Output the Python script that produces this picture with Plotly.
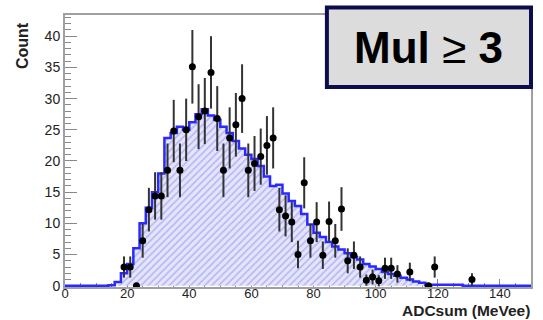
import numpy as np
import plotly.graph_objects as go

# Measured spectrum (bin centres, counts, statistical errors)
data_x = [19, 21, 23, 25, 27, 29, 31, 33, 35, 37, 39, 41, 43, 45, 47, 49, 51, 53,
          55, 57, 59, 61, 63, 65, 67, 69, 71, 73, 75, 77, 79, 81, 83, 85, 87, 89,
          91, 93, 95, 97, 99, 101, 103, 105, 107, 111, 117, 119, 131]
data_y = [3.0, 3.0, 0.0, 7.2, 12.2, 14.4, 14.4, 18.5, 24.8, 18.5, 25.0, 35.1, 27.1,
          28.0, 34.2, 26.8, 18.5, 23.7, 25.8, 30.0, 18.5, 19.6, 20.7, 22.5, 23.7,
          12.2, 11.2, 10.2, 5.0, 16.5, 7.2, 10.2, 4.9, 10.3, 7.2, 12.3, 4.0, 4.9,
          3.0, 0.9, 1.4, 0.8, 2.8, 2.8, 1.9, 2.2, 0.0, 3.0, 1.0]
data_err = [1.7, 1.7, 0.0, 2.7, 3.5, 3.8, 3.8, 4.3, 5.0, 4.3, 5.0, 5.9, 5.2, 5.3,
            5.8, 5.2, 4.3, 4.9, 5.1, 5.5, 4.3, 4.4, 4.5, 4.7, 4.9, 3.5, 3.3, 3.2,
            2.2, 4.1, 2.7, 3.2, 2.2, 3.2, 2.7, 3.5, 2.0, 2.2, 1.7, 0.9, 1.2, 0.9,
            1.7, 1.7, 1.4, 1.5, 0.0, 1.7, 1.0]

# Simulated spectrum, 2 MeVee bins from 0 to 150
sim_edges = list(range(0, 152, 2))
sim_counts = [0, 0, 0, 0, 0, 0, 0,
              0.1, 0.6, 2.0, 3.5, 6.0, 10.0, 12.5, 15.0, 18.0, 23.7, 24.5, 25.5,
              25.0, 26.2, 27.5, 28.3, 27.3, 26.6, 25.5, 24.5, 23.2, 22.0, 21.0,
              20.3, 19.2, 17.5, 16.0, 16.2, 14.8, 13.6, 12.8, 11.5, 9.8, 8.5, 7.8,
              7.0, 6.3, 5.8, 5.2, 4.6, 4.2, 3.5, 3.1, 2.7, 2.2, 1.9, 1.6, 1.3, 1.0,
              0.7, 0.5, 0.1,
              0.15, 0.15, 0.15, 0.15, 0.15,
              0, 0, 0, 0, 0, 0, 0, 0, 0, 0, 0]

x_ticks = [0, 20, 40, 60, 80, 100, 120, 140]
y_ticks = [0, 5, 10, 15, 20, 25, 30, 35, 40]

step_x = sim_edges
step_y = sim_counts + [sim_counts[-1]]

fig = go.Figure()

fig.add_trace(go.Scatter(
    x=step_x, y=step_y, mode="lines", line_shape="hv",
    line=dict(color="#2a2aff", width=2.5),
    fill="tozeroy",
    fillpattern=dict(shape="/", bgcolor="#e4e4fb", fgcolor="#8484ea",
                     size=5, solidity=0.3),
    hoverinfo="skip", showlegend=False,
))

fig.add_trace(go.Scatter(
    x=data_x, y=data_y, mode="markers",
    marker=dict(color="black", size=7),
    error_y=dict(type="data", array=data_err, visible=True,
                 color="#333333", thickness=2, width=0),
    showlegend=False,
))

fig.update_layout(
    width=543, height=320,
    margin=dict(l=65, r=10, t=15, b=33),
    paper_bgcolor="white", plot_bgcolor="white",
    font=dict(family="Liberation Sans, Arial, sans-serif", color="#222222"),
)

fig.update_xaxes(
    range=[0, 150], tickvals=x_ticks, ticks="inside", ticklen=8, tickwidth=1,
    tickcolor="#888888",
    minor=dict(dtick=5, ticks="inside", ticklen=4, tickcolor="#888888"),
    showline=True, linecolor="#a0a0a0", linewidth=2, mirror=True,
    showgrid=False, zeroline=False, layer="below traces",
    tickfont=dict(size=13, color="#222222"), ticklabelstandoff=-7,
)
fig.update_yaxes(
    range=[-0.2, 43.4], tickvals=y_ticks, ticks="inside", ticklen=12, tickwidth=1,
    tickcolor="#888888",
    minor=dict(dtick=1, ticks="inside", ticklen=6, tickcolor="#888888"),
    showline=True, linecolor="#a0a0a0", linewidth=2, mirror=True,
    showgrid=False, zeroline=False, layer="below traces",
    tickfont=dict(size=14, color="#222222"),
)

# Axis titles placed at the far ends of the axes
fig.add_annotation(text="<b>Count</b>", xref="paper", yref="paper",
                   x=-0.09, y=0.98, xanchor="center", yanchor="top",
                   textangle=-90, showarrow=False,
                   font=dict(size=16, color="#222222"))
fig.add_annotation(text="<b>ADCsum (MeVee)</b>", xref="paper", yref="paper",
                   x=1.0, y=-0.1213, xanchor="right", yanchor="bottom",
                   showarrow=False, borderpad=0,
                   font=dict(size=15.5, color="#222222"))

# Multiplicity label box
fig.add_shape(type="rect", xref="paper", yref="paper",
              x0=0.562, x1=1.0, y0=0.735, y1=1.028,
              fillcolor="#dcdcdc", line=dict(color="#0d0d4d", width=4),
              layer="above")
fig.add_annotation(text="<b>Mul</b> ≥ <b>3</b>", xref="paper", yref="paper",
                   x=0.781, y=0.88, xanchor="center", yanchor="middle",
                   showarrow=False, font=dict(size=44, color="black"))

fig.write_html("out.html")
